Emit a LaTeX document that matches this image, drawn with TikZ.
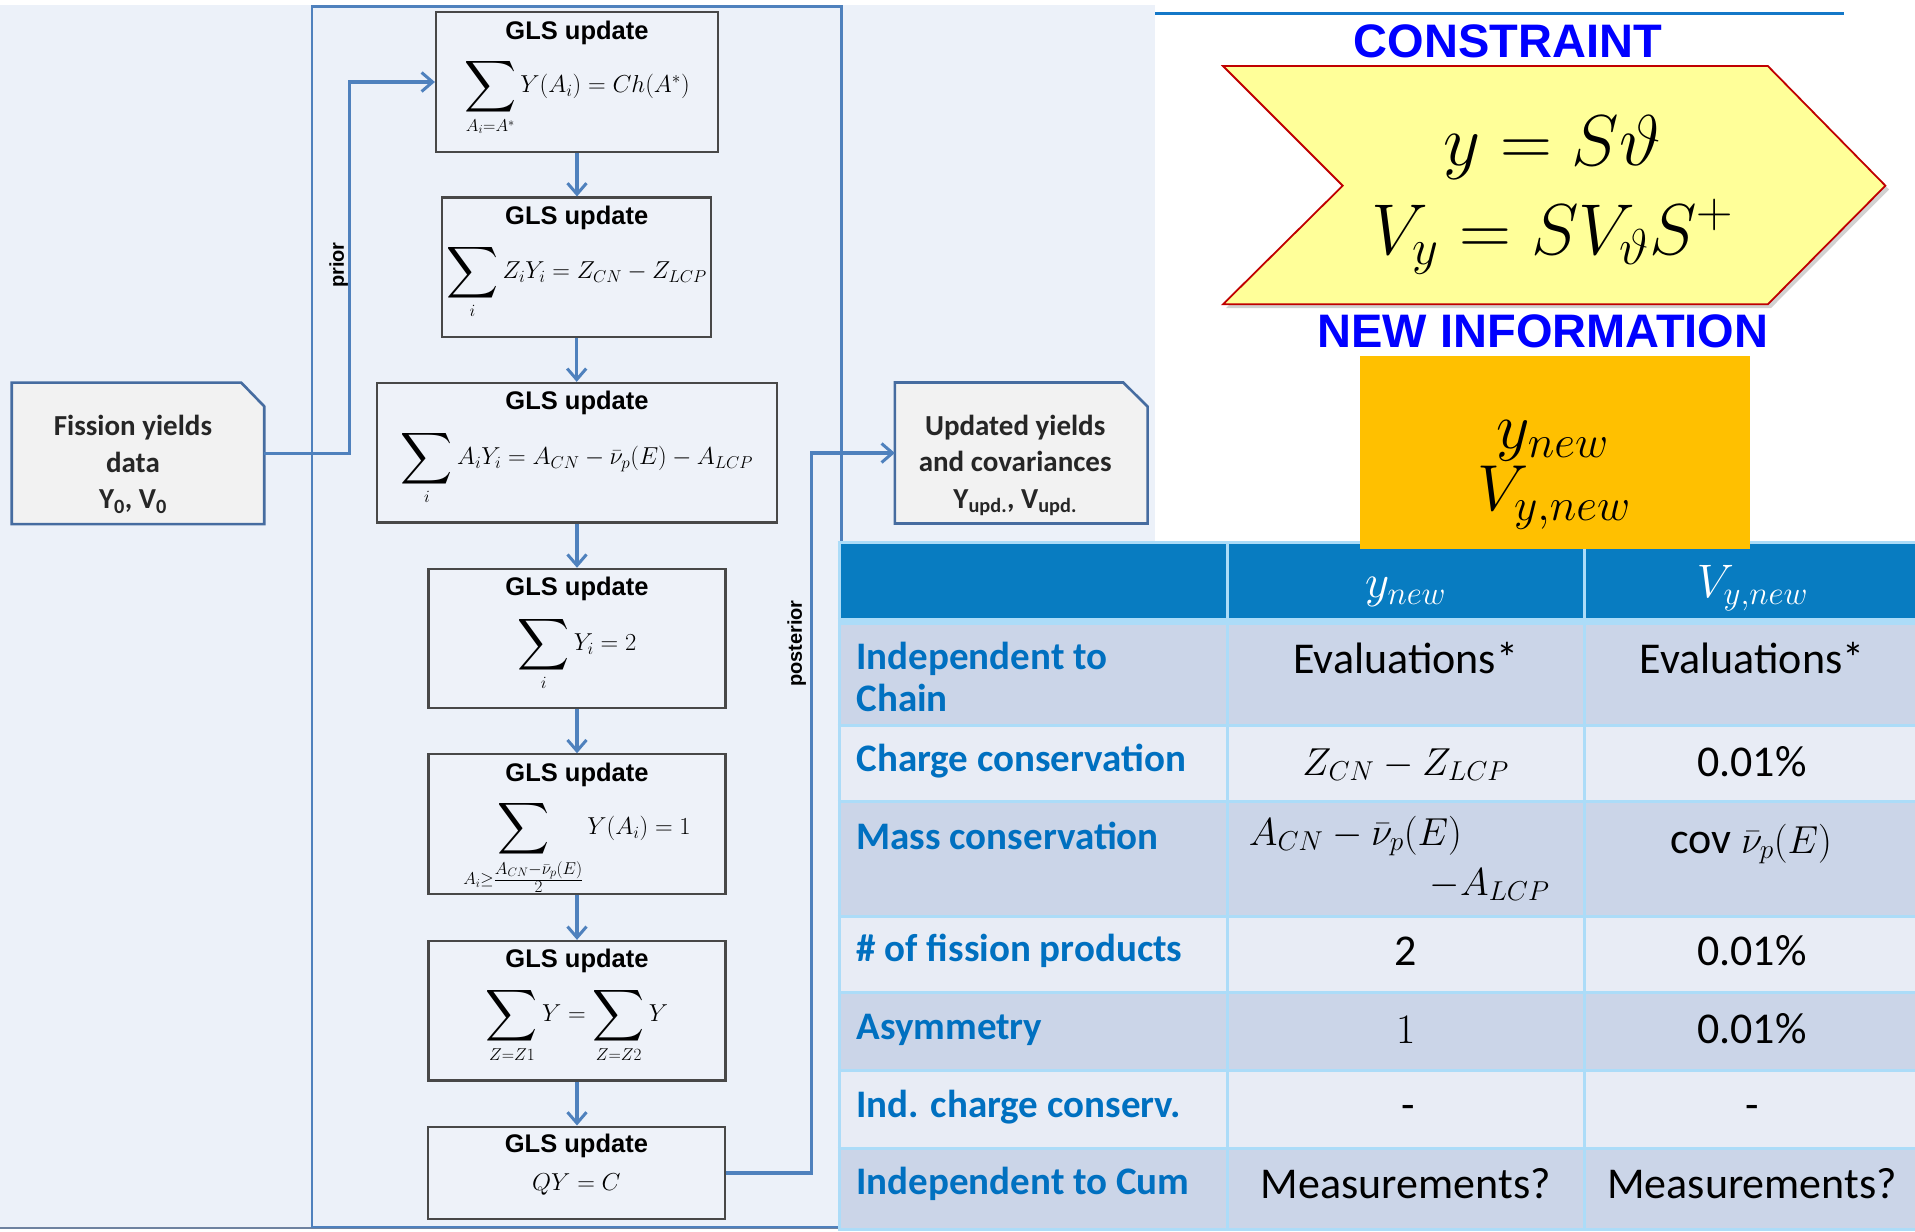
\RequirePackage{fix-cm}
\documentclass[tikz,border=0pt]{standalone}
\usepackage{amsmath}
\usepackage{graphicx}
\usepackage{fontspec}
\newfontfamily\arialf{Liberation Sans}
\newfontfamily\calf{Carlito}
\usetikzlibrary{arrows.meta,calc}
\definecolor{bgblue}{RGB}{236,241,249}
\definecolor{boxfill}{RGB}{238,242,249}
\definecolor{flowblue}{RGB}{79,129,189}
\definecolor{boxedge}{RGB}{72,72,72}
\definecolor{docfill}{RGB}{242,242,242}
\definecolor{docedge}{RGB}{70,108,160}
\definecolor{hdrblue}{RGB}{8,124,193}
\definecolor{lblblue}{RGB}{0,112,192}
\definecolor{rowdark}{RGB}{203,213,232}
\definecolor{rowlight}{RGB}{232,236,245}
\definecolor{gridblue}{RGB}{172,220,248}
\definecolor{chevfill}{RGB}{255,255,153}
\definecolor{chevedge}{RGB}{192,0,0}
\definecolor{orangefill}{RGB}{255,192,0}
\definecolor{titleblue}{RGB}{0,0,255}
\definecolor{topline}{RGB}{20,120,200}
\definecolor{bottomedge}{RGB}{110,130,160}
\newcommand\bsum{\mathop{\vcenter{\hbox{\scalebox{1.45}{$\displaystyle\sum$}}}}\limits}
\tikzset{
  flowline/.style={draw=flowblue, line width=3.2pt},
  flowarrow/.style={flowline, -{Straight Barb[length=11pt,width=19pt,line width=3pt]}},
  glsbox/.style={draw=boxedge, line width=2.2pt, fill=boxfill, minimum height=139.5pt, inner sep=0pt},
  glstitle/.style={font=\arialf\bfseries\fontsize{25.5}{29}\selectfont, anchor=base, inner sep=0pt},
  glsmath/.style={font=\fontsize{24.5}{28}\selectfont, inner sep=0pt},
  docanchor/.style={draw=none, inner sep=0pt},
  docshape/.style={draw=docedge, line width=2.6pt, fill=docfill},
  doctext/.style={font=\calf\bfseries\fontsize{29}{36.5}\selectfont, align=center, inner sep=0pt, text=black!85},
  vlabel/.style={rotate=90, font=\arialf\bfseries\fontsize{20}{22}\selectfont, inner sep=0pt},
  rowlabel/.style={anchor=base west, font=\calf\bfseries\fontsize{39}{44}\selectfont, text=lblblue, inner sep=0pt},
  cell/.style={anchor=base, font=\calf\fontsize{44}{48}\selectfont, inner sep=0pt},
  cellmath/.style={font=\fontsize{39}{44}\selectfont, inner sep=0pt},
  hdrmath/.style={anchor=base, font=\fontsize{47}{50}\selectfont, text=white, inner sep=0pt},
  bigtitle/.style={anchor=base, font=\arialf\bfseries\fontsize{47}{50}\selectfont, text=titleblue, inner sep=0pt},
  chevmath/.style={anchor=base, font=\fontsize{72}{80}\selectfont, inner sep=0pt},
  newmath/.style={anchor=base, font=\fontsize{65}{70}\selectfont, inner sep=0pt},
  gridline/.style={draw=gridblue, line width=3pt},
}
\begin{document}
\begin{tikzpicture}[x=1pt,y=-1pt]
\useasboundingbox (0,0) rectangle (1915,1232);
\fill[white] (0,0) rectangle (1915,1232);
% flowchart background
\fill[bgblue] (0,4.7) rectangle (1155,1229);
\draw[bottomedge, line width=2pt] (0,1228) -- (1155,1228);
% frame
\draw[flowblue, line width=2.6pt] (312,6.5) rectangle (841.5,1227);

% GLS boxes
\node[glsbox, minimum width=282pt] (b1) at (577,82) {};
\node[glsbox, minimum width=269pt] (b2) at (576.7,267.3) {};
\node[glsbox, minimum width=399.5pt] (b3) at (577,452.7) {};
\node[glsbox, minimum width=297pt] (b4) at (577,638.6) {};
\node[glsbox, minimum width=297pt] (b5) at (577,824.1) {};
\node[glsbox, minimum width=297pt] (b6) at (577,1010.7) {};
\node[glsbox, minimum width=297.5pt, minimum height=92.6pt] (b7) at (576.4,1172.9) {};

\foreach \b in {b1,b2,b3,b4,b5,b6}{
  \node[glstitle] (\b t) at ([yshift=-28pt]\b.north) {GLS update};
}
\node[glstitle] (b7t) at ([yshift=-26.5pt]b7.north) {GLS update};

\node[glsmath] (b1m) at ([yshift=-15pt]b1.center) {$\bsum_{A_i=A^*} Y(A_i) = Ch(A^*)$};
\node[glsmath] (b2m) at ([yshift=-14pt]b2.center) {$\bsum_{i} Z_iY_i = Z_{CN} - Z_{LCP}$};
\node[glsmath] (b3m) at ([yshift=-14.5pt]b3.center) {$\bsum_{i} A_iY_i = A_{CN} - \bar{\nu}_p(E) - A_{LCP}$};
\node[glsmath] (b4m) at ([yshift=-15pt]b4.center) {$\bsum_{i} Y_i = 2$};
\node[glsmath] (b5m) at ([yshift=-23pt]b5.center) {$\bsum_{A_i\ge\frac{\scriptstyle A_{CN}-\bar{\nu}_p(E)}{\scriptstyle 2}} Y(A_i) = 1$};
\node[glsmath] (b6m) at ([yshift=-14pt]b6.center) {$\bsum_{Z=Z1} Y = \bsum_{Z=Z2} Y$};
\node[glsmath] (b7m) at ([yshift=-12pt]b7.center) {$QY = C$};

% vertical arrows
\draw[flowarrow] (b1.south) -- (b1.south |- b2.north);
\draw[flowarrow] (b2.south) -- (b2.south |- b3.north);
\draw[flowarrow] (b3.south) -- (b3.south |- b4.north);
\draw[flowarrow] (b4.south) -- (b4.south |- b5.north);
\draw[flowarrow] (b5.south) -- (b5.south |- b6.north);
\draw[flowarrow] (b6.south) -- (b6.south |- b7.north);

% fission yields box
\node[docanchor, minimum width=252.1pt, minimum height=141.1pt] (fy) at (137.95,453.35) {};
\draw[docshape] (fy.south west) -- (fy.north west) -- ([xshift=-23pt]fy.north east) -- ([yshift=-23.7pt]fy.north east) -- (fy.south east) -- cycle;
\node[doctext] (fyt) at ([xshift=-5pt,yshift=-11pt]fy.center) {Fission yields\\data\\Y\textsubscript{0}, V\textsubscript{0}};

% updated box
\node[docanchor, minimum width=252.3pt, minimum height=140.6pt] (up) at (1021.2,453) {};
\draw[docshape] (up.south west) -- (up.north west) -- ([xshift=-24.3pt]up.north east) -- ([yshift=-24pt]up.north east) -- (up.south east) -- cycle;
\node[doctext] (upt) at ([xshift=-6pt,yshift=-12.5pt]up.center) {Updated yields\\and covariances\\Y\textsubscript{upd.}, V\textsubscript{upd.}};

% prior / posterior
\draw[flowarrow] (fy.east) -- ++(85.6,0) |- (b1.west);
\draw[flowarrow] (b7.east) -- ++(85.3,0) |- (up.west);
\node[vlabel] (pri) at (338.7,265) {prior};
\node[vlabel] (post) at (796.7,643.6) {posterior};

% top line
\draw[topline, line width=3pt] (1155,13.3) -- (1844.4,13.3);

% table
\fill[hdrblue] (837.8,542) rectangle (1915,618);
\fill[rowdark] (837.8,618) rectangle (1915,725);
\fill[rowlight] (837.8,725) rectangle (1915,801);
\fill[rowdark] (837.8,801) rectangle (1915,916);
\fill[rowlight] (837.8,916) rectangle (1915,992);
\fill[rowdark] (837.8,992) rectangle (1915,1070);
\fill[rowlight] (837.8,1070) rectangle (1915,1148);
\fill[rowdark] (837.8,1148) rectangle (1915,1229);
\foreach \yy in {542,725,801,916,992,1070,1148,1229}{
  \draw[gridline] (837.8,\yy) -- (1915,\yy);
}
\draw[gridblue, line width=7pt] (837.8,621) -- (1915,621);
\foreach \xx in {839.3,1227.4,1584}{
  \draw[gridline] (\xx,542) -- (\xx,1229);
}

% header
\node[hdrmath] (h1) at (1405.6,597) {$y_{new}$};
\node[hdrmath] (h2) at (1752.5,597) {$V_{y,new}$};

% row labels
\node[rowlabel] (l1a) at (856.3,669.5) {Independent to};
\node[rowlabel] (l1b) at (856.3,711) {Chain};
\node[rowlabel] (l2) at (856.3,771.5) {Charge conservation};
\node[rowlabel] (l3) at (856.3,849) {Mass conservation};
\node[rowlabel] (l4) at (856.3,961) {\# of fission products};
\node[rowlabel] (l5) at (856.3,1039.5) {Asymmetry};
\node[rowlabel] (l6) at (856.3,1117.5) {Ind. charge conserv.};
\node[rowlabel] (l7) at (856.3,1194.5) {Independent to Cum};

% cells
\node[cell] (c1a) at (1405.7,673.3) {Evaluations*};
\node[cell] (c1b) at (1752,673.3) {Evaluations*};
\node[cellmath, anchor=base] (c2a) at (1405.7,775) {$Z_{CN} - Z_{LCP}$};
\node[cell] (c2b) at (1752,776) {0.01\%};
\node[cellmath, anchor=base west] (c3a) at (1248.7,845) {$A_{CN} - \bar{\nu}_p(E)$};
\node[cellmath, anchor=base east] (c3c) at (1549.7,895) {$- A_{LCP}$};
\node[cell] (c3b) at (1751,853) {cov {\fontsize{39}{44}\selectfont$\bar{\nu}_p(E)$}};
\node[cell] (c4a) at (1405.7,965) {2};
\node[cell] (c4b) at (1752,965) {0.01\%};
\node[cell] (c5a) at (1405.7,1043) {{\fontsize{42}{44}\selectfont$1$}};
\node[cell] (c5b) at (1752,1043) {0.01\%};
\node[cell] (c6a) at (1408,1119) {-};
\node[cell] (c6b) at (1752,1119) {-};
\node[cell] (c7a) at (1405.7,1198) {Measurements?};
\node[cell] (c7b) at (1752,1198) {Measurements?};

% new information box
\node[fill=orangefill, minimum width=389.5pt, minimum height=193pt, inner sep=0pt] (nwbox) at (1554.75,452.85) {};
\node[newmath] (nw1) at (1552.8,448) {$y_{new}$};
\node[newmath] (nw2) at (1553.9,510.7) {$V_{y,new}$};

% chevron
\fill[black, opacity=0.18] (1226,70) -- (1771,70) -- (1889,189.5) -- (1771,308) -- (1226,308) -- (1346,189.5) -- cycle;
\draw[chevedge, fill=chevfill, line width=1.8pt] (1223,66) -- (1767.8,66) -- (1885.4,185.7) -- (1767.8,304.3) -- (1223,304.3) -- (1342.7,185.7) -- cycle;
\node[chevmath] (eq1) at (1552,165) {$y = S\vartheta$};
\node[chevmath] (eq2) at (1552.7,254) {$V_y = SV_\vartheta S^+$};

% titles
\node[bigtitle] (ct) at (1508,57) {CONSTRAINT};
\node[bigtitle] (ni) at (1543,347) {NEW INFORMATION};
\end{tikzpicture}
\end{document}
